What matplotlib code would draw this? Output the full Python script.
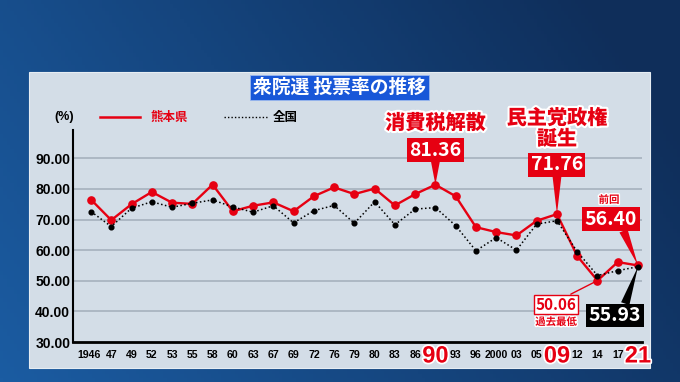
import numpy as np
import matplotlib.pyplot as plt
from matplotlib import patheffects
from matplotlib.patches import Rectangle
from matplotlib.lines import Line2D
from matplotlib.transforms import blended_transform_factory

plt.rcParams['font.family'] = ['Noto Sans CJK JP', 'DejaVu Sans']

years = ['1946', '47', '49', '52', '53', '55', '58', '60', '63', '67', '69', '72', '76', '79',
         '80', '83', '86', '90', '93', '96', '2000', '03', '05', '09', '12', '14', '17', '21']
kumamoto = [76.5, 69.8, 75.0, 79.0, 75.5, 75.1, 81.4, 72.7, 74.5, 75.6, 72.7, 77.6, 80.5, 78.3,
            80.1, 74.6, 78.3, 81.36, 77.6, 67.5, 65.9, 64.8, 69.6, 71.76, 58.1, 50.06, 56.1, 55.0]
zenkoku = [72.6, 67.7, 73.7, 75.8, 74.0, 75.3, 76.4, 74.1, 72.4, 74.5, 68.9, 72.9, 74.6, 68.8,
           75.8, 68.3, 73.4, 73.9, 68.0, 59.8, 64.1, 60.0, 68.5, 69.6, 59.5, 51.7, 53.3, 54.6]
big_years = ['90', '09', '21']
yticks = [30, 40, 50, 60, 70, 80, 90]

RED = '#e60012'
W, H = 680, 382

fig = plt.figure(figsize=(6.8, 3.82), dpi=100)

# background gradient
bg = fig.add_axes([0, 0, 1, 1])
gx = np.linspace(0, 1, 200)
gy = np.linspace(0, 1, 100)
GX, GY = np.meshgrid(gx, gy)
c1 = np.array([0x1b, 0x5c, 0xa2]) / 255
c2 = np.array([0x0f, 0x2e, 0x5a]) / 255
t = np.clip(GX * 0.8 + GY * 0.3, 0, 1)[..., None]
img = c1 * (1 - t) + c2 * t
bg.imshow(img, aspect='auto', extent=[0, 1, 0, 1], origin='lower')
bg.axis('off')

# light panel
fig.patches.append(Rectangle((29 / W, 1 - 368 / H), (650 - 29) / W, (368 - 72) / H,
                             transform=fig.transFigure, fc='#d3dde7', ec='#e6edf3', lw=0.8, zorder=1))

# title
fig.text(339.5 / W, 1 - 87.5 / H, '衆院選 投票率の推移', color='white', fontsize=13.5,
         fontweight='bold', ha='center', va='center', zorder=5,
         bbox=dict(boxstyle='square,pad=0.18', fc='#1857d8', ec='#9ab8ee', lw=0.6))

# legend and unit
fig.text(64 / W, 1 - 117 / H, '(%)', fontsize=9, fontweight='bold', ha='center', va='center',
         family=['Liberation Sans', 'DejaVu Sans'], zorder=5)
fig.lines.append(Line2D([100 / W, 140 / W], [1 - 117 / H] * 2, transform=fig.transFigure,
                        color=RED, lw=1.8, zorder=5))
fig.text(150 / W, 1 - 117 / H, '熊本県', color=RED, fontsize=9, fontweight='bold',
         va='center', zorder=5)
fig.lines.append(Line2D([224 / W, 267 / W], [1 - 117 / H] * 2, transform=fig.transFigure,
                        color='black', lw=1, ls=(0, (1, 1.5)), zorder=5))
fig.text(273 / W, 1 - 117 / H, '全国', color='black', fontsize=9, fontweight='bold',
         va='center', zorder=5)

# main axes
ax = fig.add_axes([73 / W, 1 - 342 / H, (642 - 73) / W, (342 - 130) / H])
ax.set_facecolor('none')
ax.set_zorder(3)
x = np.arange(len(years))
ax.set_xlim(-18 / 20.26, len(years) - 1 + 4 / 20.26)
ax.set_ylim(30, 30 + (342 - 130) / 3.062)
for v in yticks[1:]:
    ax.axhline(v, color='#a9b5c1', lw=1.3, zorder=1)
ax.plot(x, kumamoto, color=RED, lw=1.7, marker='o', ms=5.2, zorder=3)
ax.plot(x, zenkoku, color='black', lw=1.1, ls=(0, (1, 1.6)), marker='o', ms=3.4, zorder=4)

for s in ['top', 'right']:
    ax.spines[s].set_visible(False)
ax.spines['left'].set_linewidth(1.5)
ax.spines['bottom'].set_linewidth(2)
ax.set_yticks(yticks)
ax.set_yticklabels(['%.2f' % v for v in yticks], fontsize=10, fontweight='bold',
                   family=['Liberation Sans', 'DejaVu Sans'])
ax.tick_params(axis='y', length=0, pad=2)
ax.set_xticks([])

trans = blended_transform_factory(ax.transData, ax.transAxes)
ylab = -(356 - 342) / (342 - 130)
for i, lab in enumerate(years):
    if lab in big_years:
        ax.text(i, ylab, lab, transform=trans, ha='center', va='center', color=RED,
                fontsize=17, fontweight='bold', family=['Liberation Sans', 'DejaVu Sans'],
                path_effects=[patheffects.withStroke(linewidth=2.5, foreground='white')],
                clip_on=False)
    else:
        off = -0.08 if lab == '1946' else 0
        ax.text(i + off, ylab + 0.005, lab, transform=trans, ha='center', va='center',
                color='black', fontsize=7.6, fontweight='bold',
                family=['Liberation Sans', 'DejaVu Sans'], clip_on=False)

stroke = [patheffects.withStroke(linewidth=3, foreground='white')]


def px(xp, yp):
    return (xp - 91) / 20.26, 30 + (342 - yp) / 3.062


i90 = years.index('90')
i09 = years.index('09')
i14 = years.index('14')
i21 = years.index('21')

# 消費税解散
ax.text(i90, px(0, 123)[1], '消費税解散', color=RED, fontsize=14.5, fontweight='heavy',
        ha='center', va='center', path_effects=stroke, clip_on=False)
ax.annotate('%.2f' % kumamoto[i90], xy=(i90, kumamoto[i90]), xytext=(i90, px(0, 150)[1]),
            color='white', fontsize=14, fontweight='bold', ha='center', va='center',
            bbox=dict(boxstyle='square,pad=0.12', fc=RED, ec='none'),
            arrowprops=dict(arrowstyle='wedge,tail_width=0.45,shrink_factor=0.5', fc=RED,
                            ec='none', shrinkA=0, shrinkB=0, relpos=(0.5, 0.0)),
            annotation_clip=False)

# 民主党政権誕生
ax.text(i09, px(0, 118)[1], '民主党政権', color=RED, fontsize=14.5, fontweight='heavy',
        ha='center', va='center', path_effects=stroke, clip_on=False)
ax.text(i09, px(0, 139)[1], '誕生', color=RED, fontsize=14.5, fontweight='heavy',
        ha='center', va='center', path_effects=stroke, clip_on=False)
ax.annotate('%.2f' % kumamoto[i09], xy=(i09, kumamoto[i09]), xytext=(i09, px(0, 165)[1]),
            color='white', fontsize=14, fontweight='bold', ha='center', va='center',
            bbox=dict(boxstyle='square,pad=0.12', fc=RED, ec='none'),
            arrowprops=dict(arrowstyle='wedge,tail_width=0.45,shrink_factor=0.5', fc=RED,
                            ec='none', shrinkA=0, shrinkB=0, relpos=(0.5, 0.0)),
            annotation_clip=False)

# 前回 56.40
ax.text(*px(609, 200), '前回', color=RED, fontsize=7.5, fontweight='bold', ha='center',
        va='center', path_effects=[patheffects.withStroke(linewidth=2, foreground='white')])
ax.annotate('56.40', xy=(i21, kumamoto[i21]), xytext=px(611, 219),
            color='white', fontsize=14, fontweight='bold', ha='center', va='center',
            bbox=dict(boxstyle='square,pad=0.12', fc=RED, ec='none'),
            arrowprops=dict(arrowstyle='wedge,tail_width=0.45,shrink_factor=0.5', fc=RED,
                            ec='none', shrinkA=0, shrinkB=0, relpos=(0.72, 0.0)),
            annotation_clip=False, zorder=6)

# 50.06 過去最低
ax.annotate('%.2f' % kumamoto[i14], xy=(i14, kumamoto[i14]), xytext=px(556, 304.5),
            color=RED, fontsize=11, fontweight='bold', ha='center', va='center',
            bbox=dict(boxstyle='square,pad=0.12', fc='white', ec=RED, lw=1),
            arrowprops=dict(arrowstyle='-', color=RED, lw=1, shrinkA=0, shrinkB=0,
                            relpos=(0.75, 1.0)),
            annotation_clip=False, zorder=6)
ax.text(*px(556, 322), '過去最低', color=RED, fontsize=7.5, fontweight='bold', ha='center',
        va='center', path_effects=[patheffects.withStroke(linewidth=2, foreground='white')])

# 55.93 全国
ax.annotate('55.93', xy=(i21, zenkoku[i21]), xytext=px(615, 315.5),
            color='white', fontsize=14, fontweight='bold', ha='center', va='center',
            bbox=dict(boxstyle='square,pad=0.12', fc='black', ec='none'),
            arrowprops=dict(arrowstyle='wedge,tail_width=0.45,shrink_factor=0.5', fc='black',
                            ec='none', shrinkA=0, shrinkB=0, relpos=(0.68, 1.0)),
            annotation_clip=False, zorder=6)

fig.savefig('out.png', dpi=100)
